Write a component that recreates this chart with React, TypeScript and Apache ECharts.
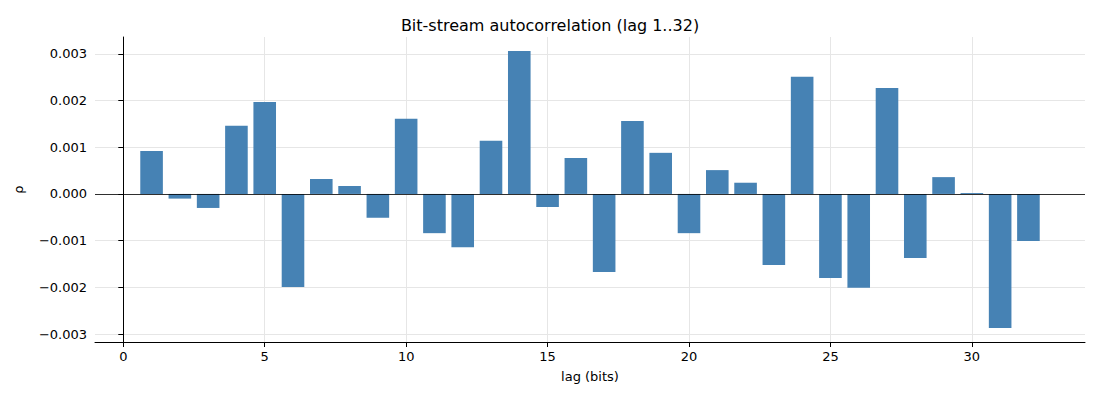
import * as echarts from "echarts";
import { useEffect, useRef } from "react";

const lags = Array.from({ length: 32 }, (_, i) => i + 1);
const rho = [
  0.00092, -0.0001, -0.0003, 0.00146, 0.00197, -0.00199, 0.00032, 0.00017,
  -0.00051, 0.00161, -0.00084, -0.00114, 0.00114, 0.00306, -0.00028, 0.00077,
  -0.00167, 0.00156, 0.00088, -0.00084, 0.00051, 0.00024, -0.00152, 0.00251,
  -0.0018, -0.00201, 0.00227, -0.00137, 0.00036, 0.00002, -0.00287, -0.00101,
];
const xTicks = [0, 5, 10, 15, 20, 25, 30];
const yTicks = [-0.003, -0.002, -0.001, 0, 0.001, 0.002, 0.003];

const font = "DejaVu Sans";

const App = () => {
  const chartRef = useRef(null);

  useEffect(() => {
    document.body.style.margin = "0";
    const chart = echarts.init(chartRef.current, null, { renderer: "svg" });
    const gridColor = "#e6e6e6";
    chart.setOption({
      animation: false,
      textStyle: { fontFamily: font },
      title: {
        text: "Bit-stream autocorrelation (lag 1..32)",
        left: "center",
        top: 12,
        textStyle: { fontFamily: font, fontSize: 16, fontWeight: "normal", color: "#000" },
      },
      grid: { left: 95, right: 15, top: 37, bottom: 58 },
      xAxis: {
        type: "value",
        min: -1,
        max: 34,
        name: "lag (bits)",
        nameLocation: "middle",
        nameGap: 28,
        nameTextStyle: { fontFamily: font, fontSize: 13, color: "#000" },
        axisLine: { onZero: false, lineStyle: { color: "#000" } },
        axisTick: { customValues: xTicks, lineStyle: { color: "#000" } },
        axisLabel: { customValues: xTicks, fontSize: 13, color: "#000", fontFamily: font },
        splitLine: { show: true, lineStyle: { color: gridColor } },
      },
      yAxis: {
        type: "value",
        min: -0.00317,
        max: 0.00336,
        name: "ρ",
        nameLocation: "middle",
        nameGap: 70,
        nameTextStyle: { fontFamily: font, fontSize: 13, color: "#000" },
        axisLine: { show: true, lineStyle: { color: "#000" } },
        axisTick: { show: true, customValues: yTicks, lineStyle: { color: "#000" } },
        axisLabel: {
          customValues: yTicks,
          fontSize: 13,
          color: "#000",
          fontFamily: font,
          formatter: (v: number) => v.toFixed(3).replace("-", "\u2212"),
        },
        splitLine: { show: true, lineStyle: { color: gridColor } },
      },
      series: [
        {
          type: "bar",
          data: lags.map((l, i) => [l, rho[i]]),
          barWidth: 22.6,
          itemStyle: { color: "#4682b4" },
          markLine: {
            symbol: "none",
            silent: true,
            label: { show: false },
            lineStyle: { color: "#000", width: 0.8, type: "solid" },
            data: [{ yAxis: 0 }],
          },
        },
      ],
    });
    return () => {
      chart.dispose();
    };
  }, []);

  return <div ref={chartRef} style={{ width: "1100px", height: "400px" }} />;
};

export default App;
